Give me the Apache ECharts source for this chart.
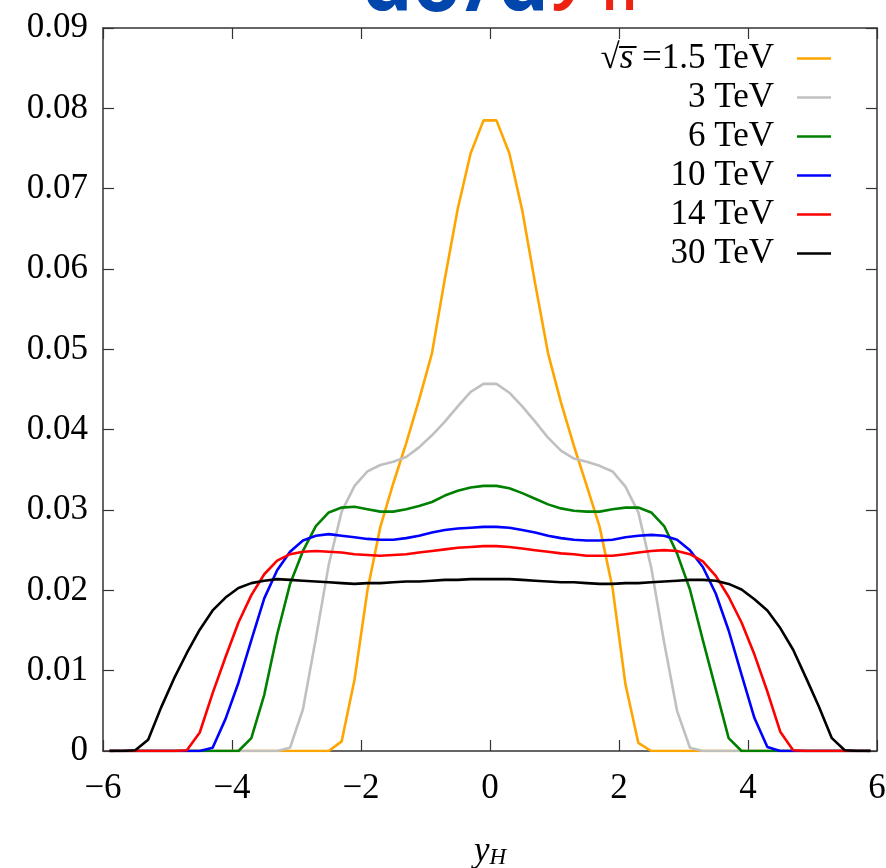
<!DOCTYPE html>
<html>
<head>
<meta charset="utf-8">
<script src="https://cdn.jsdelivr.net/npm/echarts@6/dist/echarts.min.js"></script>
<style>
html,body{margin:0;padding:0;background:#fff;}
#c{width:886px;height:868px;}
</style>
</head>
<body>
<div id="c"></div>
<script>
// rapidity bin centres
const yH = [-5.9,-5.7,-5.5,-5.3,-5.1,-4.9,-4.7,-4.5,-4.3,-4.1,-3.9,-3.7,-3.5,-3.3,-3.1,-2.9,-2.7,-2.5,-2.3,-2.1,-1.9,-1.7,-1.5,-1.3,-1.1,-0.9,-0.7,-0.5,-0.3,-0.1,
            0.1,0.3,0.5,0.7,0.9,1.1,1.3,1.5,1.7,1.9,2.1,2.3,2.5,2.7,2.9,3.1,3.3,3.5,3.7,3.9,4.1,4.3,4.5,4.7,4.9,5.1,5.3,5.5,5.7,5.9];

const seriesNames = ['1.5 TeV','3 TeV','6 TeV','10 TeV','14 TeV','30 TeV'];
const seriesColors = ['#FFA500','#C0C0C0','#008000','#0000FF','#FF0000','#000000'];

const s1p5 = [0,0,0,0,0,0,0,0,0,0,0,0,0,0,0,0,0,
  0,0.0012,0.0089,0.0200,0.0279,0.0333,0.0383,0.0437,0.0495,0.0588,0.0675,0.0744,0.0785,
  0.0785,0.0744,0.0673,0.0582,0.0495,0.0434,0.0380,0.0330,0.0279,0.0203,0.0083,0.0010,0,
  0,0,0,0,0,0,0,0,0,0,0,0,0,0,0,0,0];
const s3 = [0,0,0,0,0,0,0,0,0,0,0,0,0,
  0,0.0004,0.0052,0.0140,0.0232,0.0298,0.0330,0.0348,0.0356,0.0360,0.0366,0.0378,0.0393,0.0410,0.0429,0.0447,0.0457,
  0.0457,0.0446,0.0429,0.0410,0.0390,0.0374,0.0364,0.0360,0.0355,0.0348,0.0329,0.0297,0.0228,0.0135,0.0050,0.0004,0,
  0,0,0,0,0,0,0,0,0,0,0,0,0];
const s6 = [0,0,0,0,0,0,0,0,0,0,
  0,0.0016,0.0070,0.0145,0.0208,0.0249,0.0280,0.0297,0.0303,0.0304,0.0301,0.0298,0.0298,0.0301,0.0305,0.0310,0.0318,0.0324,0.0328,0.0330,
  0.0330,0.0327,0.0321,0.0314,0.0307,0.0302,0.0299,0.0298,0.0298,0.0301,0.0303,0.0303,0.0297,0.0280,0.0246,0.0201,0.0138,0.0077,0.0016,0,
  0,0,0,0,0,0,0,0,0,0];
const s10 = [0,0,0,0,0,0,0,
  0,0.0004,0.0040,0.0085,0.0138,0.0190,0.0225,0.0248,0.0262,0.0268,0.0270,0.0268,0.0266,0.0264,0.0263,0.0263,0.0265,0.0268,0.0272,0.0275,0.0277,0.0278,0.0279,
  0.0279,0.0278,0.0275,0.0272,0.0268,0.0265,0.0263,0.0262,0.0262,0.0263,0.0266,0.0268,0.0269,0.0268,0.0263,0.0250,0.0229,0.0196,0.0150,0.0095,0.0041,0.0005,0,
  0,0,0,0,0,0,0];
const s14 = [0,0,0,0,0,
  0,0.0001,0.0023,0.0072,0.0117,0.0160,0.0194,0.0220,0.0237,0.0245,0.0248,0.0249,0.0248,0.0247,0.0245,0.0244,0.0243,0.0244,0.0245,0.0247,0.0249,0.0251,0.0253,0.0254,0.0255,
  0.0255,0.0254,0.0252,0.0250,0.0248,0.0246,0.0245,0.0243,0.0243,0.0243,0.0245,0.0247,0.0249,0.0250,0.0249,0.0245,0.0236,0.0218,0.0192,0.0160,0.0120,0.0074,0.0024,0.0001,0,
  0,0,0,0,0];
const s30 = [0,0,0.0001,0.0014,0.0054,0.0090,0.0122,0.0151,0.0175,0.0191,0.0203,0.0209,0.0212,0.0214,0.0213,0.0212,0.0211,0.0210,0.0209,0.0208,0.0209,0.0209,0.0210,0.0211,0.0211,0.0212,0.0213,0.0213,0.0214,0.0214,
  0.0214,0.0214,0.0213,0.0212,0.0211,0.0210,0.0210,0.0209,0.0208,0.0208,0.0209,0.0209,0.0210,0.0211,0.0212,0.0213,0.0213,0.0212,0.0208,0.0201,0.0189,0.0175,0.0153,0.0126,0.0091,0.0055,0.0016,0.0001,0,0];

const seriesValues = [s1p5, s3, s6, s10, s14, s30];

const xTickValues = [-6,-4,-2,0,2,4,6];
const xTickLabels = ['\u22126','\u22124','\u22122','0','2','4','6'];
const yTickLabels = ['0','0.01','0.02','0.03','0.04','0.05','0.06','0.07','0.08','0.09'];

const FONT = 'Liberation Serif';
const AXC = '#333333';

const chart = echarts.init(document.getElementById('c'), null, {renderer:'canvas'});

const series = seriesNames.map((n, i) => ({
  name: n,
  type: 'line',
  xAxisIndex: 0, yAxisIndex: 0,
  showSymbol: false,
  symbol: 'none',
  lineStyle: {color: seriesColors[i], width: 2.6},
  itemStyle: {color: seriesColors[i]},
  data: yH.map((x, k) => [x, seriesValues[i][k]]),
  animation: false
}));

const option = {
  animation: false,
  backgroundColor: '#fff',
  grid: {left: 103, right: 9, top: 28, bottom: 117, outerBoundsMode: 'none', containLabel: false},
  legend: {
    data: seriesNames,
    orient: 'vertical',
    right: 55, top: 41,
    padding: 0,
    align: 'right',
    icon: 'rect',
    itemWidth: 34, itemHeight: 2.5,
    itemGap: 4,
    textStyle: {
      fontFamily: FONT, fontSize: 35, color: '#000', width: 300, align: 'right', lineHeight: 34,
      padding: [0, 18, 0, 0],
      rich: {
        i: {fontFamily: FONT, fontSize: 35, fontStyle: 'italic', color: '#000', lineHeight: 34},
        r: {fontFamily: FONT, fontSize: 35, color: '#000', lineHeight: 34}
      }
    },
    formatter: function (name) {
      if (name === seriesNames[0]) return '{r|\u221A}{i|s\u0305}{r| =1.5 TeV}';
      return name;
    }
  },
  xAxis: [{
    type: 'value', position: 'bottom', min: -6, max: 6, interval: 2,
    axisLine: {show: true, onZero: false, lineStyle: {color: AXC, width: 1.5}},
    axisTick: {show: true, inside: true, length: 11, lineStyle: {color: AXC, width: 1.2}},
    splitLine: {show: false},
    axisLabel: {
      fontFamily: FONT, fontSize: 35, color: '#000', margin: 20,
      formatter: function (v) { const k = xTickValues.indexOf(v); return k >= 0 ? xTickLabels[k] : ''; }
    },
    name: '{i|y}{s|H}',
    nameLocation: 'middle', nameGap: 84,
    nameTextStyle: {
      rich: {
        i: {fontFamily: FONT, fontSize: 35, fontStyle: 'italic', color: '#000', lineHeight: 34},
        s: {fontFamily: FONT, fontSize: 23, fontStyle: 'italic', color: '#000', lineHeight: 8, verticalAlign: 'bottom'}
      }
    }
  }, {
    type: 'value', position: 'top', min: -6, max: 6, interval: 2,
    axisLine: {show: true, onZero: false, lineStyle: {color: AXC, width: 1.5}},
    axisTick: {show: true, inside: true, length: 11, lineStyle: {color: AXC, width: 1.2}},
    axisLabel: {show: false}, splitLine: {show: false}
  }],
  yAxis: [{
    type: 'value', position: 'left', min: 0, max: 0.09, interval: 0.01,
    axisLine: {show: true, onZero: false, lineStyle: {color: AXC, width: 1.5}},
    axisTick: {show: true, inside: true, length: 11, lineStyle: {color: AXC, width: 1.2}},
    splitLine: {show: false},
    axisLabel: {
      fontFamily: FONT, fontSize: 35, color: '#000', margin: 15,
      formatter: function (v) { return yTickLabels[Math.round(v / 0.01)]; }
    }
  }, {
    type: 'value', position: 'right', min: 0, max: 0.09, interval: 0.01,
    axisLine: {show: true, onZero: false, lineStyle: {color: AXC, width: 1.5}},
    axisTick: {show: true, inside: true, length: 11, lineStyle: {color: AXC, width: 1.2}},
    axisLabel: {show: false}, splitLine: {show: false}
  }],
  graphic: [
    {type: 'text', left: 362, top: -52, silent: true,
     style: {text: 'd\u03C3/d', fontFamily: 'Noto Sans', fontWeight: 'bold', fontSize: 80, fill: '#0046AD'}},
    {type: 'text', left: 558, top: -50, silent: true,
     style: {text: 'y', fontFamily: 'Noto Sans', fontWeight: 'bold', fontStyle: 'italic', fontSize: 60, fill: '#EE2211'}},
    {type: 'text', left: 602, top: -26, silent: true,
     style: {text: 'H', fontFamily: 'Noto Sans', fontWeight: 'bold', fontSize: 46, fill: '#EE2211'}}
  ],
  series: series
};

chart.setOption(option);
</script>
</body>
</html>
